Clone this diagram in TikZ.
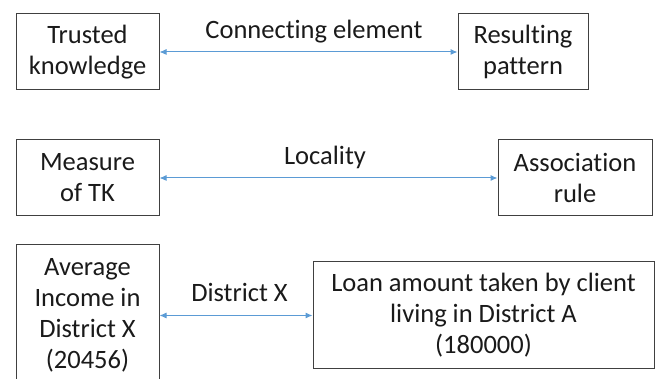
\documentclass[tikz,border=0pt]{standalone}
\usepackage{fontspec}
\setmainfont{Carlito}[Ligatures=NoCommon]
\usetikzlibrary{arrows.meta}
\definecolor{arrowblue}{HTML}{5B9BD5}
\definecolor{boxline}{HTML}{404040}
\definecolor{txt}{HTML}{1A1A1A}
\begin{document}
\begin{tikzpicture}[x=1pt,y=-1pt,
 box/.style={draw=boxline,line width=1pt,inner sep=0pt,align=center,text=txt,font=\fontsize{26.5}{31}\selectfont},
 link/.style={draw=arrowblue,line width=1pt,{Latex[length=7pt,width=6pt]}-{Latex[length=7pt,width=6pt]}},
 lbl/.style={text=txt,font=\fontsize{26.5}{31}\selectfont,anchor=base,inner sep=0pt}]
\useasboundingbox (0,0) rectangle (659,379);
\clip (0,0) rectangle (659,379);
\node[box,minimum width=143pt,minimum height=76pt] (tk) at (87.5,52) {Trusted\\knowledge};
\node[box,minimum width=130pt,minimum height=76pt] (rp) at (523,52) {Resulting\\pattern};
\node[box,minimum width=143pt,minimum height=76pt] (mtk) at (87.5,178) {Measure\\of TK};
\node[box,minimum width=154pt,minimum height=76pt] (ar) at (575,178) {Association\\rule};
\node[box,minimum width=143pt,minimum height=141pt] (av) at (87.5,315) {Average\\Income in\\District X\\(20456)};
\node[box,minimum width=341pt,minimum height=107pt] (loan) at (483.5,315.5) {Loan amount taken by client\\living in District A\\(180000)};
\draw[link] (tk.east) -- (rp.west);
\draw[link] (mtk.east |- ar.west) -- (ar.west);
\draw[link] (av.east |- loan.west) -- (loan.west);
\node[lbl] (l1) at (314,39) {Connecting element};
\node[lbl] (l2) at (325,165) {Locality};
\node[lbl] (l3) at (239.5,302) {District X};
\end{tikzpicture}
\end{document}
